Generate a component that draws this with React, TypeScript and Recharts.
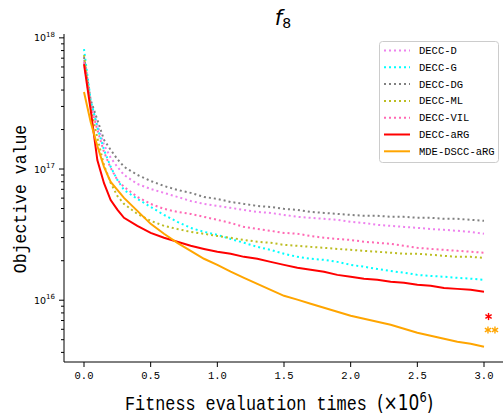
import { ComposedChart, Line, Scatter, XAxis, YAxis } from 'recharts';

const X_VALUES = [
  0, 0.05, 0.1, 0.15, 0.2, 0.25, 0.3, 0.4, 0.5, 0.6, 0.7, 0.8, 0.9, 1.0, 1.1, 1.2, 1.3,
  1.4, 1.5, 1.6, 1.7, 1.8, 1.9, 2.0, 2.1, 2.2, 2.3, 2.4, 2.5, 2.6, 2.7, 2.8, 2.9, 3.0,
];

const DECC_D = [
  6.78e17, 3.19e17, 2.17e17, 1.53e17, 1.22e17, 1.04e17, 9.02e16, 7.7e16, 7.05e16, 6.58e16,
  6.13e16, 5.71e16, 5.42e16, 5.23e16, 5.06e16, 4.88e16, 4.71e16, 4.63e16, 4.47e16, 4.32e16,
  4.25e16, 4.17e16, 4.1e16, 3.96e16, 3.88e16, 3.75e16, 3.69e16, 3.62e16, 3.56e16, 3.49e16,
  3.44e16, 3.38e16, 3.32e16, 3.21e16,
];
const DECC_G = [
  8.22e17, 3.36e17, 2.09e17, 1.4e17, 1.04e17, 8.26e16, 6.93e16, 5.92e16, 5.14e16, 4.47e16,
  3.96e16, 3.56e16, 3.32e16, 3.15e16, 2.93e16, 2.74e16, 2.55e16, 2.42e16, 2.26e16, 2.14e16,
  2.07e16, 2.03e16, 1.96e16, 1.86e16, 1.8e16, 1.73e16, 1.67e16, 1.62e16, 1.56e16, 1.53e16,
  1.51e16, 1.48e16, 1.46e16, 1.43e16,
];
const DECC_DG = [
  7.14e17, 3.36e17, 2.37e17, 1.67e17, 1.4e17, 1.19e17, 1.04e17, 9.02e16, 8.11e16, 7.43e16,
  6.93e16, 6.58e16, 6.13e16, 5.92e16, 5.61e16, 5.42e16, 5.23e16, 5.14e16, 4.97e16, 4.88e16,
  4.71e16, 4.63e16, 4.55e16, 4.47e16, 4.4e16, 4.4e16, 4.32e16, 4.32e16, 4.25e16, 4.25e16,
  4.17e16, 4.17e16, 4.1e16, 4.03e16,
];
const DECC_ML = [
  7.4e17, 2.92e17, 1.73e17, 1.07e17, 7.84e16, 6.24e16, 5.42e16, 4.55e16, 4.03e16, 3.69e16,
  3.49e16, 3.32e16, 3.21e16, 3.09e16, 2.99e16, 2.88e16, 2.79e16, 2.74e16, 2.64e16, 2.6e16,
  2.55e16, 2.51e16, 2.46e16, 2.42e16, 2.38e16, 2.34e16, 2.3e16, 2.26e16, 2.26e16, 2.22e16,
  2.18e16, 2.14e16, 2.14e16, 2.1e16,
];
const DECC_VIL = [
  6.54e17, 3.03e17, 1.99e17, 1.35e17, 1.02e17, 8.26e16, 7.31e16, 6.13e16, 5.42e16, 4.97e16,
  4.71e16, 4.55e16, 4.32e16, 4.1e16, 3.88e16, 3.62e16, 3.49e16, 3.38e16, 3.26e16, 3.21e16,
  3.09e16, 2.99e16, 2.93e16, 2.88e16, 2.79e16, 2.74e16, 2.69e16, 2.6e16, 2.51e16, 2.46e16,
  2.42e16, 2.38e16, 2.34e16, 2.3e16,
];
const DECC_ARG = [
  6.3e17, 2.82e17, 1.17e17, 7.8e16, 5.8e16, 4.9e16, 4.25e16, 3.69e16, 3.26e16, 2.99e16,
  2.79e16, 2.6e16, 2.46e16, 2.34e16, 2.26e16, 2.14e16, 2.07e16, 1.96e16, 1.86e16, 1.77e16,
  1.71e16, 1.65e16, 1.56e16, 1.51e16, 1.46e16, 1.43e16, 1.38e16, 1.36e16, 1.31e16, 1.29e16,
  1.24e16, 1.22e16, 1.2e16, 1.16e16,
];
const MDE_DSCC_ARG = [
  3.87e17, 2.28e17, 1.5e17, 1.04e17, 7.98e16, 6.93e16, 6.03e16, 4.8e16, 3.82e16, 3.21e16,
  2.74e16, 2.38e16, 2.07e16, 1.86e16, 1.65e16, 1.48e16, 1.33e16, 1.2e16, 1.08e16, 1.01e16,
  9.4e15, 8.75e15, 8.16e15, 7.61e15, 7.21e15, 6.84e15, 6.5e15, 6.06e15, 5.65e15, 5.36e15,
  5.08e15, 4.82e15, 4.66e15, 4.42e15,
];

// significance marks next to the final values
const MARK_X = [3.034, 3.056];
const MARK_Y = [7.51e15, 5.93e15];
const MARK_TEXT = ['*', '**'];

const X_TICKS = [0, 0.5, 1, 1.5, 2, 2.5, 3];
const Y_TICKS = [
  4e15, 5e15, 6e15, 7e15, 8e15, 9e15,
  1e16, 2e16, 3e16, 4e16, 5e16, 6e16, 7e16, 8e16, 9e16,
  1e17, 2e17, 3e17, 4e17, 5e17, 6e17, 7e17, 8e17, 9e17,
  1e18,
];

const MONO = '"Liberation Mono", "DejaVu Sans Mono", monospace';
const MATH = '"DejaVu Sans", sans-serif';

const SERIES = [
  { key: 'd', name: 'DECC-D', values: DECC_D, color: '#ee82ee', dotted: true },
  { key: 'g', name: 'DECC-G', values: DECC_G, color: '#00ffff', dotted: true },
  { key: 'dg', name: 'DECC-DG', values: DECC_DG, color: '#808080', dotted: true },
  { key: 'ml', name: 'DECC-ML', values: DECC_ML, color: '#bcbd22', dotted: true },
  { key: 'vil', name: 'DECC-VIL', values: DECC_VIL, color: '#ff69b4', dotted: true },
  { key: 'arg', name: 'DECC-aRG', values: DECC_ARG, color: '#ff0000', dotted: false },
  { key: 'mde', name: 'MDE-DSCC-aRG', values: MDE_DSCC_ARG, color: '#ffa500', dotted: false },
];
const MARK_COLORS = ['#ff0000', '#ffa500'];

const rows = X_VALUES.map((x, i) => {
  const row: Record<string, number> = { x };
  SERIES.forEach((s) => {
    row[s.key] = s.values[i];
  });
  return row;
});

const marks = MARK_X.map((x, i) => ({
  x,
  y: MARK_Y[i],
  text: MARK_TEXT[i],
  color: MARK_COLORS[i],
}));

function XTick(props: any) {
  const { x, y, payload } = props;
  return (
    <g>
      <line x1={x} x2={x} y1={y} y2={y + 5} stroke="#000" strokeWidth={1} />
      <text x={x} y={y + 17} textAnchor="middle" fontFamily={MONO} fontSize={10.5} fill="#000">
        {payload.value.toFixed(1)}
      </text>
    </g>
  );
}

function YTick(props: any) {
  const { x, y, payload } = props;
  const lg = Math.log10(payload.value);
  const exp = Math.round(lg);
  const major = Math.abs(lg - exp) < 1e-6;
  return (
    <g>
      <line x1={x - (major ? 5 : 3)} x2={x} y1={y} y2={y} stroke="#000" strokeWidth={1} />
      {major && (
        <text x={x - 9} y={y + 3.5} textAnchor="end" fontFamily={MATH} fontSize={9.5} fill="#000">
          10
          <tspan fontSize={7} dy={-4.5}>
            {exp}
          </tspan>
        </text>
      )}
    </g>
  );
}

// six-spoke asterisk(s), one per character of the mark text
function MarkShape(props: any) {
  const { cx, cy, payload } = props;
  const n = payload.text.length;
  const step = 7;
  const r = 3.6;
  const angles = [90, 30, -30].map((a) => (a * Math.PI) / 180);
  return (
    <g>
      {Array.from({ length: n }).map((_, k) => {
        const ox = cx + (k - (n - 1) / 2) * step;
        return angles.map((a, j) => (
          <line
            key={`${k}-${j}`}
            x1={ox - r * Math.cos(a)}
            y1={cy + r * Math.sin(a)}
            x2={ox + r * Math.cos(a)}
            y2={cy - r * Math.sin(a)}
            stroke={payload.color}
            strokeWidth={1.4}
          />
        ));
      })}
    </g>
  );
}

function LegendBox() {
  return (
    <svg
      width={120}
      height={122}
      style={{ position: 'absolute', left: 378.5, top: 40.5, pointerEvents: 'none' }}
    >
      <rect x={0.5} y={0.5} width={119} height={121} rx={3} fill="rgba(255,255,255,0.85)" stroke="#cccccc" />
      {SERIES.map((s, i) => {
        const cy = 9.5 + i * 16.8;
        return (
          <g key={s.key}>
            <line
              x1={5}
              x2={31}
              y1={cy}
              y2={cy}
              stroke={s.color}
              strokeWidth={2}
              strokeDasharray={s.dotted ? '2 3' : undefined}
            />
            <text x={40} y={cy + 3.5} fontFamily={MONO} fontSize={10.5} fill="#000">
              {s.name}
            </text>
          </g>
        );
      })}
    </svg>
  );
}

export default function App() {
  return (
    <div
      style={{
        position: 'absolute',
        left: 0,
        top: 0,
        width: 503,
        height: 414,
        overflow: 'hidden',
        background: '#fff',
      }}
    >
      <ComposedChart
        width={504}
        height={414}
        data={rows}
        margin={{ top: 34, right: 0, bottom: 0, left: 0 }}
      >
        <XAxis
          dataKey="x"
          type="number"
          domain={[-0.15, 3.15]}
          ticks={X_TICKS}
          interval={0}
          height={52}
          tickSize={0}
          tickMargin={0}
          tick={<XTick />}
          axisLine={{ stroke: '#000', strokeWidth: 1 }}
          allowDataOverflow
        />
        <XAxis
          xAxisId="top"
          orientation="top"
          type="number"
          domain={[-0.15, 3.15]}
          height={0}
          tick={false}
          tickLine={false}
          axisLine={{ stroke: '#000', strokeWidth: 1 }}
        />
        <YAxis
          scale="log"
          type="number"
          domain={[3.38e15, 1.07e18]}
          allowDataOverflow
          ticks={Y_TICKS}
          interval={0}
          width={64}
          tickSize={0}
          tickMargin={0}
          tick={<YTick />}
          axisLine={{ stroke: '#000', strokeWidth: 1 }}
        />
        {SERIES.map((s) => (
          <Line
            key={s.key}
            dataKey={s.key}
            name={s.name}
            type="linear"
            stroke={s.color}
            strokeWidth={2}
            strokeDasharray={s.dotted ? '2 3' : undefined}
            dot={false}
            activeDot={false}
            isAnimationActive={false}
          />
        ))}
        <Scatter data={marks} dataKey="y" shape={<MarkShape />} isAnimationActive={false} />
        <text x={283} y={25} textAnchor="middle" fontFamily={MATH} fontSize={21} fill="#000">
          <tspan fontStyle="italic">f</tspan>
          <tspan fontSize={14} dy={3}>
            8
          </tspan>
        </text>
        <text
          transform="translate(26,199) rotate(-90) scale(1,1.15)"
          x={0}
          y={0}
          textAnchor="middle"
          fontFamily={MONO}
          fontSize={16.5}
          fill="#000"
        >
          Objective value
        </text>
        <text
          transform="translate(125,410) scale(1,1.2)"
          x={0}
          y={0}
          textAnchor="start"
          fontSize={16.8}
          fill="#000"
        >
          <tspan fontFamily={MONO}>Fitness evaluation times </tspan>
          <tspan fontFamily={MATH} fontSize={17}>
            (×10
          </tspan>
          <tspan fontFamily={MATH} fontSize={11.5} dy={-7}>
            6
          </tspan>
          <tspan fontFamily={MATH} fontSize={17} dy={7}>
            )
          </tspan>
        </text>
      </ComposedChart>
      <LegendBox />
    </div>
  );
}
